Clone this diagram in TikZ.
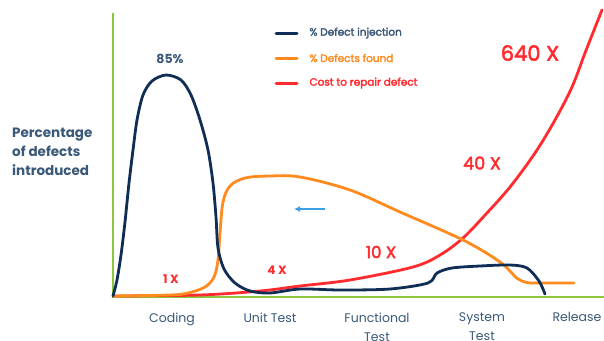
\documentclass[tikz,border=0pt]{standalone}
\usepackage{fontspec}
\setmainfont{Poppins}
\newfontfamily\pmed[FakeBold=2.5]{Poppins}
\usetikzlibrary{arrows.meta}
\definecolor{navy}{HTML}{102E55}
\definecolor{inkblue}{HTML}{3A5878}
\definecolor{found}{HTML}{FF8A1E}
\definecolor{cost}{HTML}{FF2B2E}
\definecolor{axisgreen}{HTML}{8CC63F}
\definecolor{hint}{HTML}{3AA0E6}
\tikzset{
  curve/.style={line width=2.8pt, line cap=round, line join=round},
  legline/.style={line width=3pt, line cap=round},
  legtext/.style={anchor=west, font=\fontsize{10.5}{12}\selectfont\pmed},
  tick/.style={font=\fontsize{12.5}{19}\selectfont, text=inkblue, align=center, anchor=north},
  mult/.style={text=cost}
}
\begin{document}
\begin{tikzpicture}[x=1pt, y=-1pt]
\useasboundingbox (0,0) rectangle (604,340);
\fill[white] (0,0) rectangle (604,340);

% axes
\draw[axisgreen, line width=1.6pt] (113,13) coordinate (ytop) -- (113,297) coordinate (origin) -- (604,297) coordinate (xend);

% y-axis title
\node[anchor=north west, align=left, text=inkblue, font=\fontsize{13.5}{19}\selectfont\bfseries, inner sep=0] (ytitle) at (12,128) {Percentage\\of defects\\introduced};

% cost to repair
\draw[curve, cost] plot[smooth, tension=0.55] coordinates {(113,296) (200,295) (260,291) (300,286) (350,280) (413,267) (440,255) (463,238) (486,214) (510,187) (535,153) (555,120) (572,87) (585,53) (598,20) (602,10)};

% defects found
\draw[curve, found] plot[smooth, tension=0.55] coordinates {(113,296) (170,295) (188,293) (205,287) (214,277) (218,260) (220,233) (223,202) (230,186) (245,178) (270,176) (300,177) (350,190) (400,212) (463,240) (500,262) (518,279) (530,283)} -- (574,283);

% defect injection
\draw[curve, navy] plot[smooth, tension=0.5] coordinates {(113,296) (117,280) (121,255) (125,222) (129,183) (133,150) (137,120) (143,95) (152,81) (166,75) (181,80) (191,95) (200,120) (208,150) (213,183) (216,217) (218,248) (224,269) (235,283) (250,291) (270,293) (300,289) (340,290) (390,289) (428,283) (437,273) (452,268) (480,266) (510,265) (527,268) (539,281) (545,294)};

% peak label
\node[text=inkblue, font=\fontsize{12.5}{14}\selectfont\bfseries] (peak) at (170,59) {85\%};

% cost multipliers
\node[mult, font=\fontsize{12}{14}\selectfont\bfseries] (m1) at (171,279) {1 X};
\node[mult, font=\fontsize{12}{14}\selectfont\bfseries] (m4) at (277,270) {4 X};
\node[mult, font=\fontsize{16.5}{18}\selectfont\pmed] (m10) at (381,252) {10 X};
\node[mult, font=\fontsize{17.5}{19}\selectfont\pmed] (m40) at (482,163) {40 X};
\node[mult, font=\fontsize{21}{22}\selectfont\pmed] (m640) at (530,53) {640 X};

% shift-left arrow
\coordinate (ashaft) at (325,209);
\coordinate (ahead) at (294,209);
\draw[hint, line width=1.3pt, -{Latex[length=6pt,width=6pt]}] (ashaft) -- (ahead);

% legend
\draw[legline, navy] (276,33) coordinate (l1a) -- (297,33) coordinate (l1b);
\draw[legline, found] (276,58) coordinate (l2a) -- (297,58) coordinate (l2b);
\draw[legline, cost] (276,83) coordinate (l3a) -- (297,83) coordinate (l3b);
\node[legtext, text=inkblue] (lg1) at (306,33) {\% Defect injection};
\node[legtext, text=found] (lg2) at (306,58) {\% Defects found};
\node[legtext, text=cost] (lg3) at (306,83) {Cost to repair defect};

% phases
\node[tick] (p1) at (172,309) {Coding};
\node[tick] (p2) at (270,309) {Unit Test};
\node[tick] (p3) at (377,309) {Functional\\Test};
\node[tick] (p4) at (482,309) {System\\Test};
\node[tick, anchor=north west] (p5) at (549,309) {Release};
\end{tikzpicture}
\end{document}
